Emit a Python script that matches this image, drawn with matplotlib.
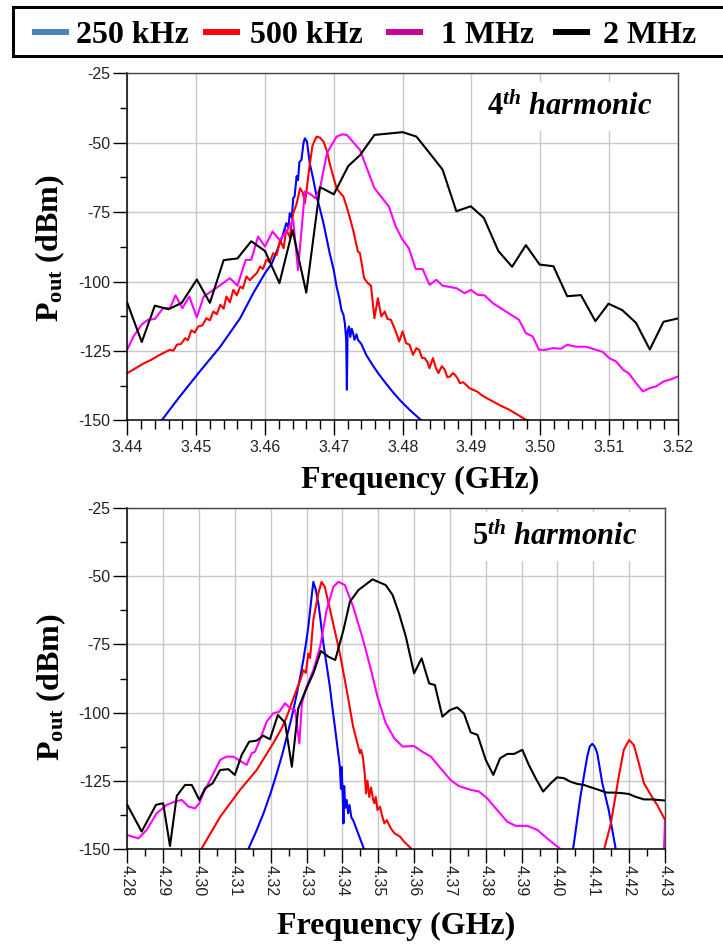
import numpy as np
import matplotlib
matplotlib.use('Agg')
import matplotlib.pyplot as plt
from matplotlib.patches import Rectangle
from matplotlib.lines import Line2D

plt.rcParams['font.family'] = 'Liberation Sans'
plt.rcParams['axes.unicode_minus'] = False
plt.rcParams['mathtext.fontset'] = 'custom'
plt.rcParams['mathtext.rm'] = 'Liberation Serif:bold'
plt.rcParams['mathtext.bf'] = 'Liberation Serif:bold'
plt.rcParams['mathtext.it'] = 'Liberation Serif:italic:bold'

nan = np.nan

labels = ['250 kHz', '500 kHz', '1 MHz', '2 MHz']
line_colors = ['#0000ff', '#ff0000', '#ff00ff', '#000000']
legend_colors = ['#4f81bd', '#ff0000', '#cc0099', '#000000']

# ---- 4th harmonic ----
f4_250k = [3.4450, 3.4476, 3.4505, 3.4535, 3.4564, 3.4583, 3.4600, 3.4610, 3.4617, 3.4625,
           3.4631, 3.4634, 3.4636, 3.4639, 3.4641, 3.4643, 3.4646, 3.4648, 3.4650, 3.4653,
           3.4656, 3.4658, 3.4661, 3.4665, 3.4670, 3.4675, 3.4680, 3.4685, 3.4690, 3.4694,
           3.4700, 3.4704, 3.4708, 3.4711, 3.4714, 3.4716, 3.4718, 3.4719, 3.4720, 3.4722,
           3.4724, 3.4726, 3.4728, 3.4730, 3.4733, 3.4735, 3.4740, 3.4747, 3.4756, 3.4766,
           3.4775, 3.4785, 3.4797, 3.4810, 3.4818, 3.4827]
p4_250k = [-150, -141.5, -132.5, -123.5, -113.2, -104.2, -97, -93.5, -89.2, -84,
           -79, -80.5, -75.4, -77, -70, -69.4, -62, -63.5, -57, -56.2,
           -50, -48.4, -49.6, -57.4, -63, -69.4, -74, -79, -85, -89.8,
           -96, -101.8, -106, -110.2, -112, -115, -121, -139, -118, -116.2,
           -120, -117, -118.6, -121, -119, -121, -122.5, -126.4, -130, -133.6,
           -136.5, -139.6, -143, -146.2, -148, -150]

f4_500k = [3.4400, 3.4409, 3.4423, 3.4435, 3.4443, 3.4452, 3.4462, 3.4467, 3.4472, 3.4478,
           3.4484, 3.4488, 3.4493, 3.4498, 3.4503, 3.4509, 3.4515, 3.4520, 3.4525, 3.4530,
           3.4535, 3.4540, 3.4544, 3.4549, 3.4554, 3.4559, 3.4564, 3.4568, 3.4573, 3.4578,
           3.4583, 3.4588, 3.4593, 3.4597, 3.4602, 3.4607, 3.4612, 3.4617, 3.4622, 3.4627,
           3.4631, 3.4636, 3.4641, 3.4646, 3.4651, 3.4655, 3.4658, 3.4661, 3.4664, 3.4669,
           3.4675, 3.4680, 3.4685, 3.4690, 3.4694, 3.4699, 3.4704, 3.4709, 3.4714, 3.4721,
           3.4728, 3.4735, 3.4738, 3.4744, 3.4749, 3.4754, 3.4759, 3.4764, 3.4769, 3.4774,
           3.4778, 3.4783, 3.4790, 3.4795, 3.4800, 3.4805, 3.4810, 3.4815, 3.4820, 3.4824,
           3.4828, 3.4832, 3.4836, 3.4839, 3.4844, 3.4848, 3.4852, 3.4857, 3.4861, 3.4865,
           3.4869, 3.4873, 3.4876, 3.4880, 3.4883, 3.4888, 3.4892, 3.4897, 3.4902, 3.4908,
           3.4914, 3.4922, 3.4931, 3.4943, 3.4955, 3.4967, 3.4979, 3.4989]
p4_500k = [-133, -131.7, -129.6, -128.2, -127, -125.8, -124.6, -124.9, -122.8, -122.5,
           -120.4, -121.2, -117.6, -118.4, -116.2, -115.8, -113.2, -114, -110.8, -111.8,
           -108.4, -109.8, -105.4, -107.5, -103, -105, -101.8, -102.5, -98.2, -99.5,
           -98.2, -97, -94.6, -95.5, -92.2, -93, -89.8, -90.5, -85, -88,
           -81.4, -84, -75.4, -72, -66.4, -68, -71.8, -66, -59.8, -51,
           -47.8, -48.2, -49.6, -53, -57.4, -62, -66.4, -68, -69.4, -75,
           -81.4, -89.2, -89.8, -98.8, -100.5, -101.5, -113.2, -106, -112.6, -110.8,
           -113.5, -113.8, -118, -121.6, -118, -122.2, -122.8, -126.4, -124, -124.6,
           -127.5, -127.6, -129, -131.2, -127.6, -131, -133, -130.5, -131.7, -134.5,
           -134.2, -133, -133.6, -135, -136.6, -136.3, -137.2, -138.4, -139, -139.6,
           -140.8, -142, -143.2, -144.8, -146.2, -148, -149.8, -150.5]

f4_1M = [3.4400, 3.4409, 3.4421, 3.4430, 3.4440, 3.4452, 3.4462, 3.4470, 3.4480, 3.4490,
         3.4501, 3.4511, 3.4530, 3.4549, 3.4560, 3.4572, 3.4580, 3.4590, 3.4600, 3.4611,
         3.4621, 3.4630, 3.4641, 3.4648, 3.4658, 3.4666, 3.4673, 3.4680, 3.4690, 3.4704,
         3.4712, 3.4719, 3.4738, 3.4759, 3.4780, 3.4790, 3.4800, 3.4809, 3.4819, 3.4829,
         3.4839, 3.4849, 3.4858, 3.4878, 3.4890, 3.4899, 3.4909, 3.4919, 3.4931, 3.4950,
         3.4969, 3.4979, 3.4989, 3.4998, 3.5008, 3.5018, 3.5030, 3.5039, 3.5052, 3.5066,
         3.5081, 3.5091, 3.5100, 3.5110, 3.5120, 3.5129, 3.5139, 3.5149, 3.5159, 3.5168,
         3.5179, 3.5188, 3.5200]
p4_1M = [-124.5, -119.8, -115.5, -113.8, -113.5, -109.6, -109.6, -105, -109.6, -105.4,
         -112.9, -105.4, -102.2, -98.8, -101.5, -92.2, -92.2, -83.8, -87.4, -82,
         -85, -82.6, -77.8, -95.9, -67.6, -68.5, -70, -66.4, -53.8, -47.8,
         -47, -47.2, -52.6, -66.4, -73, -80.2, -85, -88, -95.5, -95.5,
         -101.2, -99.4, -101.5, -102.4, -104.2, -103, -104.8, -105, -107.8, -110.8,
         -113.8, -118.6, -119.8, -124.6, -124.6, -124, -124.2, -122.8, -123.5, -123.5,
         -124.6, -125.4, -127.6, -128.8, -131.7, -133.2, -136.6, -139.6, -138.4, -137.8,
         -136, -135.4, -134.2]

f4_2M = [3.4400, 3.4421, 3.4440, 3.4460, 3.4479, 3.4501, 3.4520, 3.4540, 3.4560, 3.4580,
         3.4600, 3.4621, 3.4640, 3.4660, 3.4680, 3.4700, 3.4721, 3.4738, 3.4759, 3.4800,
         3.4820, 3.4839, 3.4858, 3.4878, 3.4899, 3.4918, 3.4939, 3.4959, 3.4979, 3.4999,
         3.5019, 3.5039, 3.5059, 3.5080, 3.5099, 3.5119, 3.5139, 3.5159, 3.5179, 3.5200]
p4_2M = [-107.7, -121.8, -108.7, -110, -107.7, -99.3, -107.7, -92.3, -91.7, -85.5,
         -89, -100.6, -81.5, -104, -66, -68.6, -58.4, -54.5, -47.2, -46.2,
         -47.8, -53.7, -59.7, -74.7, -72.9, -77.1, -89, -94.7, -86.9, -93.9,
         -94.5, -105.3, -104.9, -114.3, -108, -110.3, -114.9, -124.5, -114.5, -113.3]

# ---- 5th harmonic ----
f5_250k = [4.3138, 4.3160, 4.3180, 4.3200, 4.3217, 4.3232, 4.3245, 4.3260, 4.3273, 4.3283,
           4.3291, 4.3298, 4.3305, 4.3312, 4.3319, 4.3326, 4.3333, 4.3340, 4.3347, 4.3356,
           4.3365, 4.3372, 4.3379, 4.3386, 4.3393, 4.3396, 4.3398, 4.3401, 4.3403, 4.3405,
           4.3408, 4.3412, 4.3416, 4.3420, 4.3425, 4.3430, 4.3440, 4.3450, 4.3458, 4.3462,
           nan,
           4.4040, 4.4044, 4.4064, 4.4083, 4.4090, 4.4097, 4.4104, 4.4111, 4.4125, 4.4143,
           4.4162, 4.4165]
p5_250k = [-150, -143.5, -137, -129.5, -122.3, -115.5, -108.9, -101, -93, -86.5,
           -80.7, -75, -68.5, -60, -52, -55, -59.9, -67, -74.6, -82.5,
           -90.5, -98, -105.2, -112.5, -119.9, -128, -120, -131, -140.7, -127,
           -135, -132.1, -137, -134, -138.5, -139.5, -143, -146.5, -149.3, -151,
           nan,
           -151, -149.8, -130.9, -116.2, -112.5, -111.5, -112.5, -114.9, -125.9, -135.8,
           -149.8, -151]

f5_500k = [4.3007, 4.3059, 4.3114, 4.3161, 4.3207, 4.3230, 4.3245, 4.3260, 4.3272, 4.3283,
           4.3291, 4.3298, 4.3305, 4.3310, 4.3319, 4.3333, 4.3342, 4.3351, 4.3370, 4.3393,
           4.3412, 4.3430, 4.3449, 4.3452, 4.3457, 4.3462, 4.3466, 4.3470, 4.3475, 4.3480,
           4.3486, 4.3489, 4.3493, 4.3498, 4.3505, 4.3510, 4.3517, 4.3524, 4.3535, 4.3545,
           4.3561, 4.3572, 4.3591, 4.3595,
           nan,
           4.4128, 4.4131, 4.4148, 4.4157, 4.4171, 4.4185, 4.4200, 4.4213, 4.4227, 4.4241,
           4.4260, 4.4278, 4.4300]
p5_500k = [-150, -138.3, -128.5, -121.1, -111.3, -106, -101.5, -96, -91.7, -88,
           -84.4, -85.5, -78.3, -80, -66, -56.2, -52, -53.9, -64.8, -78.3,
           -91.7, -105.2, -115, -113.7, -116.2, -122, -129.7, -125, -131, -127.5,
           -132.1, -133.3, -131, -135.8, -134.6, -137.5, -140.7, -139.5, -142.5, -144.3,
           -145.6, -147.4, -149.8, -151,
           nan,
           -151, -149.8, -141.3, -134.5, -123.5, -113.7, -110.1, -111.9, -118.6, -125.9,
           -130.2, -133.9, -139.4]

f5_1M = [4.2800, 4.2831, 4.2854, 4.2882, 4.2910, 4.2933, 4.2952, 4.2970, 4.2989, 4.3001,
         4.3012, 4.3031, 4.3059, 4.3077, 4.3096, 4.3114, 4.3133, 4.3147, 4.3156, 4.3168,
         4.3189, 4.3207, 4.3224, 4.3240, 4.3254, 4.3268, 4.3280, 4.3287, 4.3300, 4.3319,
         4.3338, 4.3356, 4.3375, 4.3389, 4.3407, 4.3430, 4.3458, 4.3480, 4.3498, 4.3521,
         4.3545, 4.3568, 4.3600, 4.3623, 4.3647, 4.3674, 4.3702, 4.3725, 4.3758, 4.3781,
         4.3804, 4.3832, 4.3860, 4.3883, 4.3916, 4.3944, 4.3971, 4.4009, 4.4012,
         nan,
         4.4297, 4.4300]
p5_1M = [-145, -146.2, -143.1, -137, -133.9, -132.7, -132.1, -134.5, -135.2, -133.3,
         -129.7, -124.8, -117.4, -116.2, -116.2, -117.7, -119.2, -115, -114.4, -110.7,
         -103.3, -100.3, -99.7, -96.6, -98.4, -99.1, -111.3, -96.6, -90.5, -84.4,
         -75.8, -62.3, -53.8, -52, -53.2, -61.1, -73.4, -84.4, -94.2, -103.9,
         -109.5, -112.5, -112.3, -114.4, -116.2, -120.5, -124.8, -127, -128.4, -129,
         -131.5, -135.8, -140.1, -141.6, -141.6, -143.1, -146.2, -150.2, -151,
         nan,
         -151, -140]

f5_2M = [4.2800, 4.2840, 4.2880, 4.2900, 4.2919, 4.2938, 4.2961, 4.2980, 4.3001, 4.3017,
         4.3038, 4.3059, 4.3082, 4.3100, 4.3119, 4.3140, 4.3161, 4.3179, 4.3198, 4.3220,
         4.3240, 4.3259, 4.3277, 4.3296, 4.3319, 4.3340, 4.3361, 4.3380, 4.3403, 4.3421,
         4.3445, 4.3484, 4.3521, 4.3540, 4.3558, 4.3577, 4.3600, 4.3621, 4.3642, 4.3658,
         4.3679, 4.3700, 4.3720, 4.3739, 4.3758, 4.3777, 4.3800, 4.3821, 4.3840, 4.3860,
         4.3879, 4.3902, 4.3920, 4.3939, 4.3960, 4.3981, 4.3999, 4.4018, 4.4036, 4.4055,
         4.4074, 4.4092, 4.4115, 4.4137, 4.4157, 4.4180, 4.4199, 4.4217, 4.4241, 4.4264,
         4.4282, 4.4300]
p5_2M = [-133.9, -143.7, -133.9, -133.3, -149, -130.6, -126.6, -126.6, -132.1, -127.8,
         -126, -121.1, -120.8, -122.9, -115.6, -110.7, -110.3, -108.5, -109.8, -100.9,
         -103.7, -119.9, -98.4, -92.3, -85.6, -77.4, -79.5, -80.7, -69.7, -59.3,
         -55, -51.1, -53.2, -56.8, -63.6, -72.1, -85.6, -80.1, -89.3, -89.9,
         -101.5, -99.1, -98.1, -100.3, -107.3, -108.2, -117.4, -122.9, -116.8, -115.2,
         -115.2, -113.7, -119.2, -124.1, -129, -126, -123.8, -124.1, -125.4, -126.2,
         -126.6, -127.4, -128.4, -129.4, -129.4, -129.6, -129.9, -130.9, -131.9, -131.9,
         -132.1, -132.3]

series4 = [(f4_250k, p4_250k), (f4_500k, p4_500k), (f4_1M, p4_1M), (f4_2M, p4_2M)]
series5 = [(f5_250k, p5_250k), (f5_500k, p5_500k), (f5_1M, p5_1M), (f5_2M, p5_2M)]

fig = plt.figure(figsize=(7.23, 9.44), dpi=100)
W, H = 723, 944
ax1 = fig.add_axes([127.3 / W, 1 - 420.3 / H, (678 - 127.3) / W, 347 / H])
ax2 = fig.add_axes([127.3 / W, 1 - 848.7 / H, (665 - 127.3) / W, 340.4 / H])


def style(ax, x0, x1, minor_step, rot, xmaj_len, xmin_len, xpad):
    ax.set_xlim(x0, x1)
    ax.set_ylim(-150, -25)
    ax.set_xticks(np.round(np.arange(x0, x1 + 1e-6, 0.01), 2))
    ax.set_xticks(np.arange(x0, x1 + 1e-6, minor_step), minor=True)
    ax.set_xticklabels(['%.2f' % v for v in np.arange(x0, x1 + 1e-6, 0.01)], rotation=rot)
    ax.set_yticks(np.arange(-150, -24, 25))
    ax.set_yticks(np.arange(-150, -24, 12.5), minor=True)
    ax.grid(True, which='major', color='#c8c8c8', lw=1.0)
    ax.set_axisbelow(True)
    ax.tick_params(axis='both', which='both', direction='out', width=1.0, colors='black',
                   labelcolor='#222222', labelsize=11.5)
    ax.tick_params(axis='y', which='major', length=10, pad=2)
    ax.tick_params(axis='y', which='minor', length=5)
    ax.tick_params(axis='x', which='major', length=xmaj_len, pad=xpad)
    ax.tick_params(axis='x', which='minor', length=xmin_len)
    for s in ['left', 'bottom']:
        ax.spines[s].set_linewidth(1.1)
        ax.spines[s].set_color('black')
    for s in ['top', 'right']:
        ax.spines[s].set_linewidth(1.0)
        ax.spines[s].set_color('#444444')
    ax.set_xlabel('Frequency (GHz)', fontsize=23, family='Liberation Serif', fontweight='bold')
    ax.set_ylabel(r'P$_{\mathbf{out}}$ (dBm)', fontsize=23, family='Liberation Serif',
                  fontweight='bold')


style(ax1, 3.44, 3.52, 0.002, 0, 11, 6.5, 3.5)
style(ax2, 4.28, 4.43, 0.005, -90, 10, 5, 2)

for (f, p), c in zip(series4, line_colors):
    ax1.plot(f, p, color=c, lw=1.5)
for (f, p), c in zip(series5, line_colors):
    ax2.plot(f, p, color=c, lw=1.5)

ax1.xaxis.set_label_coords(0.532, -0.132)
ax2.xaxis.set_label_coords(0.5, -0.186)
ax1.yaxis.set_label_coords(-0.109, 0.495)
ax2.yaxis.set_label_coords(-0.110, 0.474)

ax1.text(3.5043, -37.0, r'$\mathit{4}^{\mathit{th}}$ harmonic', fontsize=22,
         family='Liberation Serif', fontweight='bold', fontstyle='italic',
         ha='center', va='center', zorder=2.2,
         bbox=dict(facecolor='white', edgecolor='none', pad=7))
ax2.text(4.3993, -35.4, r'$\mathit{5}^{\mathit{th}}$ harmonic', fontsize=22,
         family='Liberation Serif', fontweight='bold', fontstyle='italic',
         ha='center', va='center', zorder=2.2,
         bbox=dict(facecolor='white', edgecolor='none', pad=7))

# legend box across the top
fig.add_artist(Rectangle((13 / W, 1 - 56 / H), 740 / W, 49 / H, transform=fig.transFigure,
                         facecolor='white', edgecolor='black', lw=2.2, clip_on=False))
handle_x = [32, 203, 386, 553]
text_x = [76, 250, 441, 603]
for hx, tx, lab, c in zip(handle_x, text_x, labels, legend_colors):
    fig.add_artist(Line2D([hx / W, (hx + 37) / W], [1 - 32 / H, 1 - 32 / H],
                          transform=fig.transFigure, color=c, lw=4.3, solid_capstyle='butt'))
    fig.text(tx / W, 1 - 32 / H, lab, fontsize=23, family='Liberation Serif',
             fontweight='bold', ha='left', va='center_baseline')

fig.savefig('out.png', dpi=100)
